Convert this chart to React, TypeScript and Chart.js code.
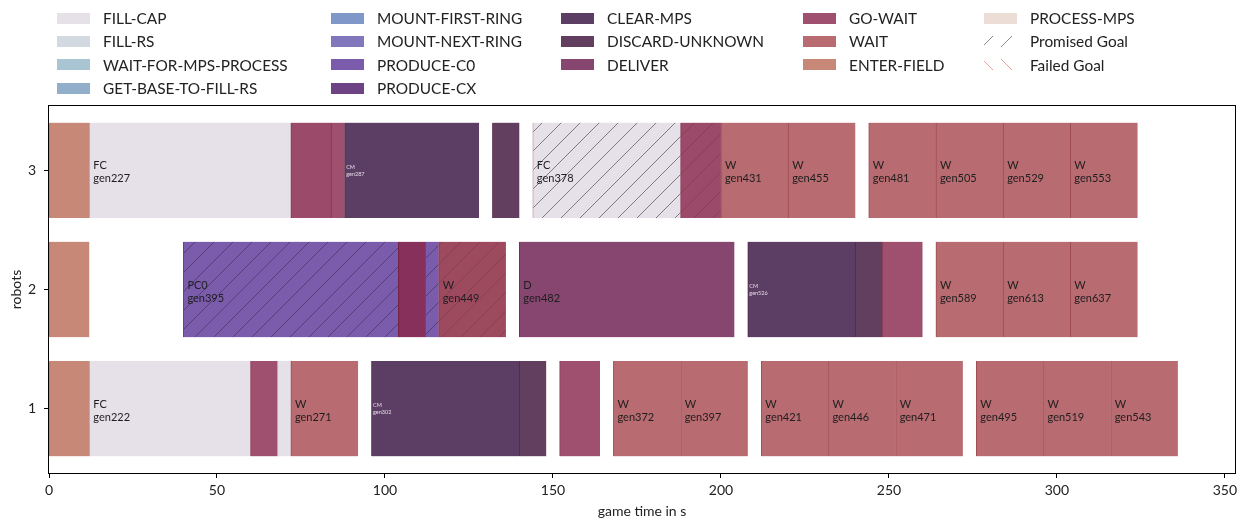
import { useEffect, useRef } from 'react';
import { Chart, registerables } from 'chart.js';

Chart.register(...registerables);

// [start s, end s, task, short code, goal id, promised goal]
type Task = [number, number, string, string?, string?, boolean?];

const robotIds = [1, 2, 3];

const robot1Tasks: Task[] = [
  [0, 12, 'ENTER-FIELD'],
  [12, 60, 'FILL-CAP', 'FC', 'gen222'],
  [60, 68, 'GO-WAIT'],
  [68, 72, 'FILL-CAP'],
  [72, 92, 'WAIT', 'W', 'gen271'],
  [96, 140, 'CLEAR-MPS', 'CM', 'gen302'],
  [140, 148, 'DISCARD-UNKNOWN'],
  [152, 164, 'GO-WAIT'],
  [168, 188, 'WAIT', 'W', 'gen372'],
  [188, 208, 'WAIT', 'W', 'gen397'],
  [212, 232, 'WAIT', 'W', 'gen421'],
  [232, 252, 'WAIT', 'W', 'gen446'],
  [252, 272, 'WAIT', 'W', 'gen471'],
  [276, 296, 'WAIT', 'W', 'gen495'],
  [296, 316, 'WAIT', 'W', 'gen519'],
  [316, 336, 'WAIT', 'W', 'gen543'],
];

const robot2Tasks: Task[] = [
  [0, 12, 'ENTER-FIELD'],
  [40, 104, 'PRODUCE-C0', 'PC0', 'gen395', true],
  [104, 112, 'GO-WAIT'],
  [112, 116, 'PRODUCE-C0', undefined, undefined, true],
  [116, 136, 'WAIT', 'W', 'gen449', true],
  [140, 204, 'DELIVER', 'D', 'gen482'],
  [208, 240, 'CLEAR-MPS', 'CM', 'gen526'],
  [240, 248, 'DISCARD-UNKNOWN'],
  [248, 260, 'GO-WAIT'],
  [264, 284, 'WAIT', 'W', 'gen589'],
  [284, 304, 'WAIT', 'W', 'gen613'],
  [304, 324, 'WAIT', 'W', 'gen637'],
];

const robot3Tasks: Task[] = [
  [0, 12, 'ENTER-FIELD'],
  [12, 72, 'FILL-CAP', 'FC', 'gen227'],
  [72, 84, 'GO-WAIT'],
  [84, 88, 'GO-WAIT'],
  [88, 128, 'CLEAR-MPS', 'CM', 'gen287'],
  [132, 140, 'DISCARD-UNKNOWN'],
  [144, 188, 'FILL-CAP', 'FC', 'gen378', true],
  [188, 200, 'GO-WAIT', undefined, undefined, true],
  [200, 220, 'WAIT', 'W', 'gen431'],
  [220, 240, 'WAIT', 'W', 'gen455'],
  [244, 264, 'WAIT', 'W', 'gen481'],
  [264, 284, 'WAIT', 'W', 'gen505'],
  [284, 304, 'WAIT', 'W', 'gen529'],
  [304, 324, 'WAIT', 'W', 'gen553'],
];

const tasksByRobot: Record<number, Task[]> = { 1: robot1Tasks, 2: robot2Tasks, 3: robot3Tasks };

const timeMax = 353;
const timeStep = 50;

const legendColumns: string[][] = [
  ['FILL-CAP', 'FILL-RS', 'WAIT-FOR-MPS-PROCESS', 'GET-BASE-TO-FILL-RS'],
  ['MOUNT-FIRST-RING', 'MOUNT-NEXT-RING', 'PRODUCE-C0', 'PRODUCE-CX'],
  ['CLEAR-MPS', 'DISCARD-UNKNOWN', 'DELIVER'],
  ['GO-WAIT', 'WAIT', 'ENTER-FIELD'],
  ['PROCESS-MPS', 'Promised Goal', 'Failed Goal'],
];

// ---- styles ----
const taskColors: Record<string, string> = {
  'FILL-CAP': '#e6e0e8',
  'FILL-RS': '#d2d9e0',
  'WAIT-FOR-MPS-PROCESS': '#a9c5d3',
  'GET-BASE-TO-FILL-RS': '#91aecb',
  'MOUNT-FIRST-RING': '#7f97c9',
  'MOUNT-NEXT-RING': '#8077bd',
  'PRODUCE-C0': '#7b5bab',
  'PRODUCE-CX': '#6e4386',
  'CLEAR-MPS': '#5c3e64',
  'DISCARD-UNKNOWN': '#633f5f',
  'DELIVER': '#86466f',
  'GO-WAIT': '#a0506f',
  'WAIT': '#b86b70',
  'ENTER-FIELD': '#c78878',
  'PROCESS-MPS': '#ecddd7',
};

// a few bars render in a deeper shade (overlapping bookkeeping in the log)
const shadeOverrides: Record<string, string> = {
  '2:2': '#87305c',
  '2:4': '#9d4a5f',
  '3:2': '#9b4a69',
  '3:7': '#9b4a69',
};

const FONT = 'Lato';
const positions = { swatchX: [57, 331, 561, 803, 984], textX: [103, 377, 607, 849, 1030], rowY: [18, 41.3, 64.6, 88] };

function hexToRgb(hex: string): [number, number, number] {
  const n = parseInt(hex.slice(1), 16);
  return [(n >> 16) & 255, (n >> 8) & 255, n & 255];
}
function shade(hex: string, f: number): string {
  const [r, g, b] = hexToRgb(hex);
  return `rgb(${Math.round(r * f)},${Math.round(g * f)},${Math.round(b * f)})`;
}
// darker edge that keeps the hue saturated (reds stay red)
function edgeShade(hex: string): string {
  const [r, g, b] = hexToRgb(hex);
  return `rgb(${Math.round(r * 0.86)},${Math.round(g * 0.7)},${Math.round(b * 0.76)})`;
}
function luminance(hex: string): number {
  const [r, g, b] = hexToRgb(hex);
  return (0.299 * r + 0.587 * g + 0.114 * b) / 255;
}
function hatchShade(hex: string): number {
  const [r, , b] = hexToRgb(hex);
  if (luminance(hex) > 0.6) return 0.5;
  return r > b + 20 ? 0.84 : 0.66;
}

const patternCache: Record<string, CanvasPattern> = {};
function hatchPattern(fill: string): CanvasPattern | string {
  if (patternCache[fill]) return patternCache[fill];
  const size = 19;
  const c = document.createElement('canvas');
  c.width = size;
  c.height = size;
  const ctx = c.getContext('2d');
  if (!ctx) return fill;
  ctx.fillStyle = fill;
  ctx.fillRect(0, 0, size, size);
  ctx.strokeStyle = shade(fill, hatchShade(fill));
  ctx.lineWidth = 0.9;
  for (let k = -1; k <= 1; k++) {
    ctx.beginPath();
    ctx.moveTo(k * size, size);
    ctx.lineTo(k * size + size, 0);
    ctx.stroke();
  }
  const p = ctx.createPattern(c, 'repeat');
  if (!p) return fill;
  patternCache[fill] = p;
  return p;
}

interface Segment {
  robot: number;
  start: number;
  end: number;
  task: string;
  code?: string;
  goal?: string;
  promised?: boolean;
  fill: string;
}

function buildSegments(): Segment[] {
  const out: Segment[] = [];
  robotIds.forEach((r) => {
    tasksByRobot[r].forEach((t, i) => {
      const [start, end, task, code, goal, promised] = t;
      out.push({ robot: r, start, end, task, code, goal, promised, fill: shadeOverrides[`${r}:${i}`] ?? taskColors[task] });
    });
  });
  return out;
}

function GanttChart() {
  const ref = useRef<HTMLCanvasElement | null>(null);

  useEffect(() => {
    if (!ref.current) return;
    const segs = buildSegments();

    const labelPlugin = {
      id: 'taskLabels',
      afterDatasetsDraw(chart: any) {
        const ctx = chart.ctx as CanvasRenderingContext2D;
        const meta = chart.getDatasetMeta(0);
        ctx.save();
        ctx.textBaseline = 'middle';
        ctx.textAlign = 'left';
        meta.data.forEach((el: any, i: number) => {
          const s = segs[i];
          if (!s.code) return;
          const left = Math.min(el.x, el.base);
          const cy = el.y;
          if (s.code === 'CM') {
            ctx.font = `5.5px ${FONT}`;
            ctx.fillStyle = '#e6dbe6';
            ctx.fillText(s.code, left + 1.5, cy - 3.4);
            ctx.fillText(s.goal ?? '', left + 1.5, cy + 4);
          } else {
            ctx.font = `11px ${FONT}`;
            ctx.fillStyle = '#1e1e1e';
            ctx.fillText(s.code, left + 4, cy - 4.5);
            ctx.fillText(s.goal ?? '', left + 4, cy + 8.5);
          }
        });
        ctx.restore();
      },
    };

    const framePlugin = {
      id: 'frame',
      afterDraw(chart: any) {
        const { left, top, right, bottom } = chart.chartArea;
        const ctx = chart.ctx as CanvasRenderingContext2D;
        ctx.save();
        ctx.strokeStyle = '#000';
        ctx.lineWidth = 1;
        ctx.strokeRect(Math.round(left) - 0.5, Math.round(top) - 0.5, Math.round(right - left) + 1, Math.round(bottom - top) + 1);
        ctx.restore();
      },
    };

    const chart = new Chart(ref.current, {
      type: 'bar',
      data: {
        datasets: [
          {
            data: segs.map((s) => ({ x: [s.start, s.end], y: s.robot })) as any,
            backgroundColor: segs.map((s) => (s.promised ? hatchPattern(s.fill) : s.fill)) as any,
            borderColor: segs.map((s) => edgeShade(s.fill)),
            borderWidth: { left: 1, right: 0, top: 0, bottom: 0 } as any,
            borderSkipped: false,
            inflateAmount: 0.4,
            barPercentage: 0.8,
            categoryPercentage: 1,
            grouped: false,
          },
        ],
      },
      options: {
        indexAxis: 'y',
        animation: false,
        responsive: false,
        maintainAspectRatio: false,
        layout: { padding: { top: 106, right: 12, left: 0, bottom: 0 } },
        plugins: { legend: { display: false }, tooltip: { enabled: false } },
        scales: {
          x: {
            type: 'linear',
            min: 0,
            max: timeMax,
            offset: false,
            border: { display: false },
            grid: { offset: false, drawOnChartArea: false, drawTicks: true, tickLength: 5, color: '#000' },
            ticks: { stepSize: timeStep, includeBounds: false, padding: 4, color: '#222', font: { family: FONT, size: 14 }, maxRotation: 0 },
            title: { display: true, text: 'game time in s', color: '#222', font: { family: FONT, size: 14 }, padding: { top: 0, bottom: 5 } },
            afterFit(scale: any) {
              scale.height = 52;
            },
          },
          y: {
            type: 'linear',
            min: 0.46,
            max: 3.54,
            offset: false,
            border: { display: false },
            grid: { offset: false, drawOnChartArea: false, drawTicks: true, tickLength: 5, color: '#000' },
            ticks: { stepSize: 1, includeBounds: false, padding: 8, color: '#222', font: { family: FONT, size: 14 } },
            title: { display: true, text: 'robots', color: '#222', font: { family: FONT, size: 14 }, padding: { top: 8, bottom: 0 } },
            afterFit(scale: any) {
              scale.width = 49;
            },
          },
        },
      },
      plugins: [labelPlugin, framePlugin],
    });

    return () => chart.destroy();
  }, []);

  return <canvas ref={ref} width={1247} height={525} style={{ position: 'absolute', left: 0, top: 0 }} />;
}

function swatchStyle(name: string): React.CSSProperties {
  if (name === 'Promised Goal') {
    return { background: 'repeating-linear-gradient(135deg, transparent 0px, transparent 6px, #8a8a8a 6px, #8a8a8a 7px, transparent 7px, transparent 13.4px)' };
  }
  if (name === 'Failed Goal') {
    return { background: 'repeating-linear-gradient(45deg, transparent 0px, transparent 6px, #ec9a9a 6px, #ec9a9a 7px, transparent 7px, transparent 13.4px)' };
  }
  return { background: taskColors[name] };
}

function Legend() {
  return (
    <>
      {legendColumns.map((col, ci) =>
        col.map((name, ri) => (
          <div key={name}>
            <div
              style={{
                position: 'absolute',
                left: positions.swatchX[ci],
                top: positions.rowY[ri] - 5.5,
                width: 33,
                height: 11,
                ...swatchStyle(name),
              }}
            />
            <div
              style={{
                position: 'absolute',
                left: positions.textX[ci],
                top: positions.rowY[ri] - 10,
                height: 20,
                lineHeight: '20px',
                fontFamily: FONT,
                fontSize: 15.4,
                color: '#222',
                whiteSpace: 'nowrap',
              }}
            >
              {name}
            </div>
          </div>
        ))
      )}
    </>
  );
}

export default function App() {
  return (
    <div style={{ position: 'absolute', left: 0, top: 0, width: 1247, height: 525, background: '#fff', overflow: 'hidden' }}>
      <GanttChart />
      <Legend />
    </div>
  );
}
